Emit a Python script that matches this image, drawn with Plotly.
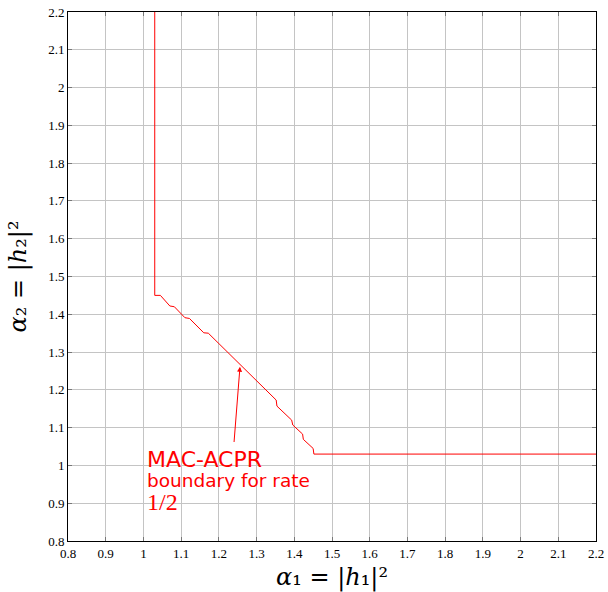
import plotly.graph_objects as go

# MAC-ACPR boundary for rate 1/2 (alpha1 = |h1|^2, alpha2 = |h2|^2)
alpha1 = [1.03, 1.03, 1.045, 1.07, 1.082, 1.11, 1.122, 1.16, 1.172, 1.352, 1.354,
          1.393, 1.396, 1.422, 1.424, 1.45, 1.452, 2.2]
alpha2 = [2.25, 1.45, 1.45, 1.422, 1.42, 1.391, 1.389, 1.351, 1.35, 1.173, 1.157,
          1.12, 1.107, 1.083, 1.069, 1.045, 1.03, 1.03]

tick_vals = [0.8, 0.9, 1.0, 1.1, 1.2, 1.3, 1.4, 1.5, 1.6, 1.7, 1.8, 1.9, 2.0, 2.1, 2.2]
tick_text = ["0.8", "0.9", "1", "1.1", "1.2", "1.3", "1.4", "1.5", "1.6", "1.7",
             "1.8", "1.9", "2", "2.1", "2.2"]

# label anchor and arrow target on the boundary
label_xy = (1.24, 1.058)
arrow_xy = (1.256, 1.261)

RED = "#ff0000"
SERIF = "DejaVu Serif, Liberation Serif, serif"
TICK_SERIF = "Liberation Serif, DejaVu Serif, serif"
SANS = "DejaVu Sans, Noto Sans, sans-serif"

fig = go.Figure()
fig.add_trace(go.Scatter(x=alpha1, y=alpha2, mode="lines",
                         line=dict(color=RED, width=1), showlegend=False,
                         hoverinfo="skip"))

axis_common = dict(
    tickvals=tick_vals, ticktext=tick_text,
    showgrid=True, gridcolor="#c4c4c4", gridwidth=1,
    showline=True, linecolor="black", linewidth=1, mirror="ticks",
    ticks="inside", ticklen=4, tickcolor="#777777",
    tickfont=dict(family=TICK_SERIF, size=13, color="black"),
    zeroline=False, automargin=False,
)

fig.update_xaxes(range=[0.8, 2.2], **axis_common,
                 title=dict(text="<i>α</i>₁ = |<i>h</i>₁|²",
                            font=dict(family=SERIF, size=24, color="black"),
                            standoff=12))
fig.update_yaxes(range=[0.8, 2.2], **axis_common,
                 title=dict(text="<i>α</i>₂ = |<i>h</i>₂|²",
                            font=dict(family=SERIF, size=24, color="black"),
                            standoff=14))

# arrow from the label to the boundary
fig.add_annotation(x=arrow_xy[0], y=arrow_xy[1], ax=label_xy[0], ay=label_xy[1],
                   xref="x", yref="y", axref="x", ayref="y",
                   showarrow=True, arrowhead=2, arrowsize=1, arrowwidth=1,
                   arrowcolor=RED, text="")

fig.add_annotation(x=1.005, y=1.0145, xref="x", yref="y", xanchor="left", yanchor="middle",
                   showarrow=False, align="left",
                   text="MAC-ACPR", font=dict(family=SANS, size=22, color=RED))
fig.add_annotation(x=1.005, y=0.961, xref="x", yref="y", xanchor="left", yanchor="middle",
                   showarrow=False, align="left",
                   text="boundary for rate", font=dict(family=SANS, size=18.5, color=RED))
fig.add_annotation(x=1.005, y=0.903, xref="x", yref="y", xanchor="left", yanchor="middle",
                   showarrow=False, align="left",
                   text="1/2", font=dict(family=TICK_SERIF, size=24, color=RED))

fig.update_layout(
    width=608, height=592,
    margin=dict(l=68, r=12, t=12, b=51, autoexpand=False),
    plot_bgcolor="white", paper_bgcolor="white",
)

fig.write_html("out.html")
